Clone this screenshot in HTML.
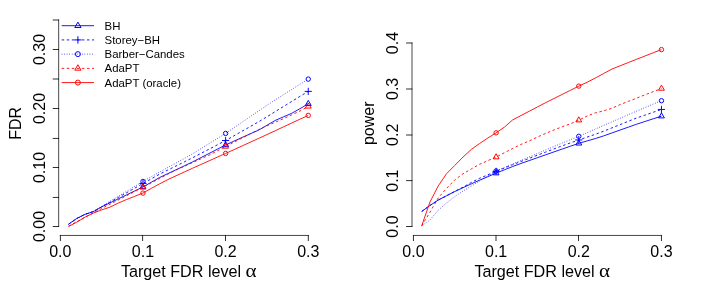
<!DOCTYPE html>
<html><head><meta charset="utf-8"><style>
html,body{margin:0;padding:0;background:#fff;}
svg{display:block;font-family:"Liberation Sans",sans-serif;fill:#000;will-change:transform;opacity:0.999;}
</style></head><body>
<svg width="706" height="294" viewBox="0 0 706 294">
<rect width="706" height="294" fill="#fff"/>
<path d="M58.66 226.50V20.00" stroke="#000" stroke-width="0.72" fill="none" stroke-linecap="square"/>
<path d="M59.02 226.50H52.76" stroke="#000" stroke-width="0.82" fill="none"/>
<path d="M59.02 197.45H52.76" stroke="#000" stroke-width="0.82" fill="none"/>
<path d="M59.02 167.50H52.76" stroke="#000" stroke-width="0.82" fill="none"/>
<path d="M59.02 138.45H52.76" stroke="#000" stroke-width="0.82" fill="none"/>
<path d="M59.02 108.50H52.76" stroke="#000" stroke-width="0.82" fill="none"/>
<path d="M59.02 79.00H52.76" stroke="#000" stroke-width="0.82" fill="none"/>
<path d="M59.02 49.50H52.76" stroke="#000" stroke-width="0.82" fill="none"/>
<path d="M59.02 20.00H52.76" stroke="#000" stroke-width="0.82" fill="none"/>
<text transform="translate(44.80 226.50) rotate(-90)" text-anchor="middle" font-size="16">0.00</text>
<text transform="translate(44.80 167.50) rotate(-90)" text-anchor="middle" font-size="16">0.10</text>
<text transform="translate(44.80 108.50) rotate(-90)" text-anchor="middle" font-size="16">0.20</text>
<text transform="translate(44.80 49.50) rotate(-90)" text-anchor="middle" font-size="16">0.30</text>
<path d="M60.30 235.45H308.25" stroke="#000" stroke-width="0.72" fill="none" stroke-linecap="square"/>
<path d="M60.40 235.09V241.05" stroke="#000" stroke-width="0.82" fill="none"/>
<text x="60.30" y="256.6" text-anchor="middle" font-size="16">0.0</text>
<path d="M142.60 235.09V241.05" stroke="#000" stroke-width="0.82" fill="none"/>
<text x="142.95" y="256.6" text-anchor="middle" font-size="16">0.1</text>
<path d="M225.50 235.09V241.05" stroke="#000" stroke-width="0.82" fill="none"/>
<text x="225.60" y="256.6" text-anchor="middle" font-size="16">0.2</text>
<path d="M308.30 235.09V241.05" stroke="#000" stroke-width="0.82" fill="none"/>
<text x="308.25" y="256.6" text-anchor="middle" font-size="16">0.3</text>
<text x="120.90" y="277" font-size="16.15">Target FDR level</text>
<text transform="translate(245.60 277) scale(1.12 1)" font-size="18.8" font-family="Liberation Serif">α</text>
<text transform="translate(21.00 123.30) rotate(-90)" text-anchor="middle" font-size="16">FDR</text>
<path d="M68.56 224.20 L76.83 218.40 L85.09 214.30 L93.36 211.69 L101.62 206.89 L109.89 202.91 L118.16 198.92 L126.42 194.94 L134.69 190.96 L142.95 186.97 L151.22 182.28 L159.48 177.59 L167.75 173.66 L176.01 169.77 L184.27 165.88 L192.54 161.91 L200.81 157.70 L209.07 153.47 L217.33 149.21 L225.60 144.95 L233.87 141.19 L242.13 137.42 L250.39 133.77 L258.66 130.12 L266.93 125.29 L275.19 120.46 L283.45 116.88 L291.72 113.29 L299.98 108.69 L308.25 103.80" fill="none" stroke="#0000ff" stroke-width="0.90" stroke-linejoin="round"/>
<polygon points="142.95,183.57 145.89,188.67 140.01,188.67" fill="none" stroke="#0000ff" stroke-width="0.98" stroke-linejoin="miter"/>
<polygon points="225.60,141.55 228.54,146.65 222.66,146.65" fill="none" stroke="#0000ff" stroke-width="0.98" stroke-linejoin="miter"/>
<polygon points="308.25,100.40 311.19,105.50 305.31,105.50" fill="none" stroke="#0000ff" stroke-width="0.98" stroke-linejoin="miter"/>
<path d="M68.56 224.20 L76.83 218.40 L85.09 214.29 L93.36 211.49 L101.62 206.84 L109.89 202.18 L118.16 197.53 L126.42 192.88 L134.69 188.22 L142.95 183.57 L151.22 178.88 L159.48 174.19 L167.75 170.08 L176.01 166.00 L184.27 161.92 L192.54 157.79 L200.81 153.48 L209.07 149.17 L217.33 144.86 L225.60 140.54 L233.87 135.86 L242.13 131.17 L250.39 126.48 L258.66 121.79 L266.93 116.76 L275.19 111.61 L283.45 106.54 L291.72 101.46 L299.98 96.38 L308.25 91.40" fill="none" stroke="#0000ff" stroke-width="0.90" stroke-linejoin="round" stroke-dasharray="2.5 2.55"/>
<path d="M139.75 183.57H146.15M142.95 180.37V186.77" fill="none" stroke="#0000ff" stroke-width="0.98" stroke-linecap="round"/>
<path d="M222.40 140.54H228.80M225.60 137.34V143.74" fill="none" stroke="#0000ff" stroke-width="0.98" stroke-linecap="round"/>
<path d="M305.05 91.40H311.45M308.25 88.20V94.60" fill="none" stroke="#0000ff" stroke-width="0.98" stroke-linecap="round"/>
<path d="M68.56 224.50 L76.83 218.79 L85.09 214.49 L93.36 211.29 L101.62 206.32 L109.89 201.35 L118.16 196.38 L126.42 191.41 L134.69 186.44 L142.95 181.47 L151.22 176.78 L159.48 172.09 L167.75 167.55 L176.01 163.01 L184.27 158.47 L192.54 153.80 L200.81 148.71 L209.07 143.62 L217.33 138.53 L225.60 133.43 L233.87 127.80 L242.13 122.18 L250.39 116.55 L258.66 110.92 L266.93 105.29 L275.19 99.92 L283.45 94.69 L291.72 89.46 L299.98 84.23 L308.25 79.10" fill="none" stroke="#0000ff" stroke-width="0.90" stroke-linejoin="round" stroke-dasharray="0.7 1.83"/>
<circle cx="142.95" cy="181.47" r="2.20" fill="none" stroke="#0000ff" stroke-width="0.98"/>
<circle cx="225.60" cy="133.43" r="2.20" fill="none" stroke="#0000ff" stroke-width="0.98"/>
<circle cx="308.25" cy="79.10" r="2.20" fill="none" stroke="#0000ff" stroke-width="0.98"/>
<path d="M68.56 226.20 L76.83 221.73 L85.09 217.26 L93.36 212.79 L101.62 208.54 L109.89 204.28 L118.16 200.03 L126.42 195.78 L134.69 191.53 L142.95 187.27 L151.22 182.90 L159.48 178.53 L167.75 174.16 L176.01 170.08 L184.27 166.35 L192.54 162.61 L200.81 158.88 L209.07 155.15 L217.33 150.85 L225.60 146.45 L233.87 142.24 L242.13 138.03 L250.39 133.81 L258.66 129.60 L266.93 125.80 L275.19 122.27 L283.45 118.71 L291.72 114.84 L299.98 110.98 L308.25 106.40" fill="none" stroke="#ff0000" stroke-width="0.90" stroke-linejoin="round" stroke-dasharray="2.5 2.55"/>
<polygon points="142.95,183.87 145.89,188.97 140.01,188.97" fill="none" stroke="#ff0000" stroke-width="0.98" stroke-linejoin="miter"/>
<polygon points="225.60,143.05 228.54,148.15 222.66,148.15" fill="none" stroke="#ff0000" stroke-width="0.98" stroke-linejoin="miter"/>
<polygon points="308.25,103.00 311.19,108.10 305.31,108.10" fill="none" stroke="#ff0000" stroke-width="0.98" stroke-linejoin="miter"/>
<path d="M68.56 226.50 L76.83 222.09 L85.09 217.09 L93.36 213.09 L101.62 209.89 L109.89 207.21 L118.16 203.15 L126.42 199.57 L134.69 196.32 L142.95 193.07 L151.22 188.45 L159.48 183.92 L167.75 179.63 L176.01 175.81 L184.27 172.01 L192.54 168.23 L200.81 164.54 L209.07 160.84 L217.33 157.15 L225.60 153.45 L233.87 149.69 L242.13 145.92 L250.39 142.15 L258.66 138.39 L266.93 134.58 L275.19 130.73 L283.45 126.88 L291.72 123.03 L299.98 119.18 L308.25 115.40" fill="none" stroke="#ff0000" stroke-width="0.90" stroke-linejoin="round"/>
<circle cx="142.95" cy="193.07" r="2.20" fill="none" stroke="#ff0000" stroke-width="0.98"/>
<circle cx="225.60" cy="153.45" r="2.20" fill="none" stroke="#ff0000" stroke-width="0.98"/>
<circle cx="308.25" cy="115.40" r="2.20" fill="none" stroke="#ff0000" stroke-width="0.98"/>
<path d="M61.7 25.70H94" fill="none" stroke="#0000ff" stroke-width="0.90"/>
<polygon points="77.90,22.10 81.02,27.50 74.78,27.50" fill="none" stroke="#0000ff" stroke-width="0.98" stroke-linejoin="miter"/>
<text x="104.6" y="29.70" font-size="11.4">BH</text>
<path d="M61.7 39.92H94" fill="none" stroke="#0000ff" stroke-width="0.90" stroke-dasharray="2.5 2.55"/>
<path d="M74.60 39.92H81.20M77.90 36.62V43.22" fill="none" stroke="#0000ff" stroke-width="0.98" stroke-linecap="round"/>
<text x="104.6" y="43.92" font-size="11.4">Storey−BH</text>
<path d="M61.7 54.14H94" fill="none" stroke="#0000ff" stroke-width="0.90" stroke-dasharray="0.7 1.83"/>
<circle cx="77.90" cy="54.14" r="2.50" fill="none" stroke="#0000ff" stroke-width="0.98"/>
<text x="104.6" y="58.14" font-size="11.4">Barber−Candes</text>
<path d="M61.7 68.36H94" fill="none" stroke="#ff0000" stroke-width="0.90" stroke-dasharray="2.5 2.55"/>
<polygon points="77.90,64.76 81.02,70.16 74.78,70.16" fill="none" stroke="#ff0000" stroke-width="0.98" stroke-linejoin="miter"/>
<text x="104.6" y="72.36" font-size="11.4">AdaPT</text>
<path d="M61.7 82.58H94" fill="none" stroke="#ff0000" stroke-width="0.90"/>
<circle cx="77.90" cy="82.58" r="2.50" fill="none" stroke="#ff0000" stroke-width="0.98"/>
<text x="104.6" y="86.58" font-size="11.4">AdaPT (oracle)</text>
<path d="M412.00 226.50V43.00" stroke="#000" stroke-width="0.72" fill="none" stroke-linecap="square"/>
<path d="M412.36 226.50H406.10" stroke="#000" stroke-width="0.82" fill="none"/>
<path d="M412.36 180.60H406.10" stroke="#000" stroke-width="0.82" fill="none"/>
<path d="M412.36 135.00H406.10" stroke="#000" stroke-width="0.82" fill="none"/>
<path d="M412.36 89.00H406.10" stroke="#000" stroke-width="0.82" fill="none"/>
<path d="M412.36 43.00H406.10" stroke="#000" stroke-width="0.82" fill="none"/>
<text transform="translate(397.80 226.50) rotate(-90)" text-anchor="middle" font-size="16">0.0</text>
<text transform="translate(397.80 180.62) rotate(-90)" text-anchor="middle" font-size="16">0.1</text>
<text transform="translate(397.80 134.75) rotate(-90)" text-anchor="middle" font-size="16">0.2</text>
<text transform="translate(397.80 88.88) rotate(-90)" text-anchor="middle" font-size="16">0.3</text>
<text transform="translate(397.80 43.00) rotate(-90)" text-anchor="middle" font-size="16">0.4</text>
<path d="M413.45 235.45H661.46" stroke="#000" stroke-width="0.72" fill="none" stroke-linecap="square"/>
<path d="M413.45 235.09V241.05" stroke="#000" stroke-width="0.82" fill="none"/>
<text x="413.45" y="256.6" text-anchor="middle" font-size="16">0.0</text>
<path d="M496.00 235.09V241.05" stroke="#000" stroke-width="0.82" fill="none"/>
<text x="496.12" y="256.6" text-anchor="middle" font-size="16">0.1</text>
<path d="M578.50 235.09V241.05" stroke="#000" stroke-width="0.82" fill="none"/>
<text x="578.79" y="256.6" text-anchor="middle" font-size="16">0.2</text>
<path d="M661.45 235.09V241.05" stroke="#000" stroke-width="0.82" fill="none"/>
<text x="661.46" y="256.6" text-anchor="middle" font-size="16">0.3</text>
<text x="474.40" y="277" font-size="16.15">Target FDR level</text>
<text transform="translate(599.10 277) scale(1.12 1)" font-size="18.8" font-family="Liberation Serif">α</text>
<text transform="translate(374.00 123.30) rotate(-90)" text-anchor="middle" font-size="16">power</text>
<path d="M421.72 211.46 L429.98 205.46 L438.25 200.06 L446.52 195.76 L454.78 191.56 L463.05 187.66 L471.32 183.85 L479.59 180.18 L487.85 176.66 L496.12 173.15 L504.39 169.85 L512.65 166.54 L520.92 163.48 L529.19 160.58 L537.45 157.69 L545.72 154.80 L553.99 151.90 L562.26 149.02 L570.52 146.18 L578.79 143.34 L587.06 140.95 L595.32 138.55 L603.59 135.92 L611.86 132.98 L620.12 130.04 L628.39 127.11 L636.66 124.19 L644.93 121.50 L653.19 118.81 L661.46 116.20" fill="none" stroke="#0000ff" stroke-width="0.90" stroke-linejoin="round"/>
<polygon points="496.12,169.75 499.06,174.85 493.18,174.85" fill="none" stroke="#0000ff" stroke-width="0.98" stroke-linejoin="miter"/>
<polygon points="578.79,139.94 581.73,145.04 575.85,145.04" fill="none" stroke="#0000ff" stroke-width="0.98" stroke-linejoin="miter"/>
<polygon points="661.46,112.80 664.40,117.90 658.52,117.90" fill="none" stroke="#0000ff" stroke-width="0.98" stroke-linejoin="miter"/>
<path d="M421.72 211.46 L429.98 205.46 L438.25 200.06 L446.52 195.76 L454.78 191.36 L463.05 187.15 L471.32 182.46 L479.59 178.29 L487.85 174.82 L496.12 171.35 L504.39 168.05 L512.65 164.74 L520.92 161.52 L529.19 158.36 L537.45 155.21 L545.72 152.05 L553.99 148.90 L562.26 145.80 L570.52 142.87 L578.79 139.94 L587.06 137.12 L595.32 134.30 L603.59 131.25 L611.86 127.92 L620.12 124.59 L628.39 121.26 L636.66 117.97 L644.93 115.13 L653.19 112.28 L661.46 109.45" fill="none" stroke="#0000ff" stroke-width="0.90" stroke-linejoin="round" stroke-dasharray="2.5 2.55"/>
<path d="M492.92 171.35H499.32M496.12 168.15V174.55" fill="none" stroke="#0000ff" stroke-width="0.98" stroke-linecap="round"/>
<path d="M575.59 139.94H581.99M578.79 136.74V143.14" fill="none" stroke="#0000ff" stroke-width="0.98" stroke-linecap="round"/>
<path d="M658.26 109.45H664.66M661.46 106.25V112.65" fill="none" stroke="#0000ff" stroke-width="0.98" stroke-linecap="round"/>
<path d="M421.72 225.86 L429.98 219.92 L438.25 210.24 L446.52 202.94 L454.78 196.64 L463.05 191.04 L471.32 186.01 L479.59 180.99 L487.85 175.96 L496.12 170.95 L504.39 167.45 L512.65 163.95 L520.92 160.45 L529.19 156.95 L537.45 153.45 L545.72 149.95 L553.99 146.45 L562.26 142.99 L570.52 139.66 L578.79 136.32 L587.06 132.69 L595.32 129.05 L603.59 125.44 L611.86 121.86 L620.12 118.28 L628.39 114.70 L636.66 111.12 L644.93 107.61 L653.19 104.10 L661.46 100.70" fill="none" stroke="#0000ff" stroke-width="0.90" stroke-linejoin="round" stroke-dasharray="0.7 1.83"/>
<circle cx="496.12" cy="170.95" r="2.20" fill="none" stroke="#0000ff" stroke-width="0.98"/>
<circle cx="578.79" cy="136.32" r="2.20" fill="none" stroke="#0000ff" stroke-width="0.98"/>
<circle cx="661.46" cy="100.70" r="2.20" fill="none" stroke="#0000ff" stroke-width="0.98"/>
<path d="M421.72 225.81 L429.98 212.19 L438.25 197.82 L446.52 188.42 L454.78 179.94 L463.05 173.75 L471.32 168.93 L479.59 164.26 L487.85 160.64 L496.12 157.13 L504.39 152.73 L512.65 148.45 L520.92 144.51 L529.19 140.95 L537.45 137.02 L545.72 133.37 L553.99 129.96 L562.26 126.72 L570.52 123.80 L578.79 120.20 L587.06 116.03 L595.32 112.89 L603.59 110.90 L611.86 108.26 L620.12 104.62 L628.39 101.35 L636.66 98.14 L644.93 94.83 L653.19 91.71 L661.46 88.50" fill="none" stroke="#ff0000" stroke-width="0.90" stroke-linejoin="round" stroke-dasharray="2.5 2.55"/>
<polygon points="496.12,153.73 499.06,158.83 493.18,158.83" fill="none" stroke="#ff0000" stroke-width="0.98" stroke-linejoin="miter"/>
<polygon points="578.79,116.80 581.73,121.90 575.85,121.90" fill="none" stroke="#ff0000" stroke-width="0.98" stroke-linejoin="miter"/>
<polygon points="661.46,85.10 664.40,90.20 658.52,90.20" fill="none" stroke="#ff0000" stroke-width="0.98" stroke-linejoin="miter"/>
<path d="M421.72 225.74 L429.98 201.98 L438.25 185.90 L446.52 173.72 L454.78 165.41 L463.05 157.02 L471.32 149.43 L479.59 143.54 L487.85 138.00 L496.12 132.82 L504.39 127.12 L512.65 119.92 L520.92 115.59 L529.19 111.26 L537.45 106.93 L545.72 102.64 L553.99 98.51 L562.26 94.37 L570.52 90.24 L578.79 86.11 L587.06 82.27 L595.32 78.02 L603.59 73.55 L611.86 69.08 L620.12 65.80 L628.39 62.54 L636.66 59.28 L644.93 56.02 L653.19 52.76 L661.46 49.60" fill="none" stroke="#ff0000" stroke-width="0.90" stroke-linejoin="round"/>
<circle cx="496.12" cy="132.82" r="2.20" fill="none" stroke="#ff0000" stroke-width="0.98"/>
<circle cx="578.79" cy="86.11" r="2.20" fill="none" stroke="#ff0000" stroke-width="0.98"/>
<circle cx="661.46" cy="49.60" r="2.20" fill="none" stroke="#ff0000" stroke-width="0.98"/>
</svg>
</body></html>
